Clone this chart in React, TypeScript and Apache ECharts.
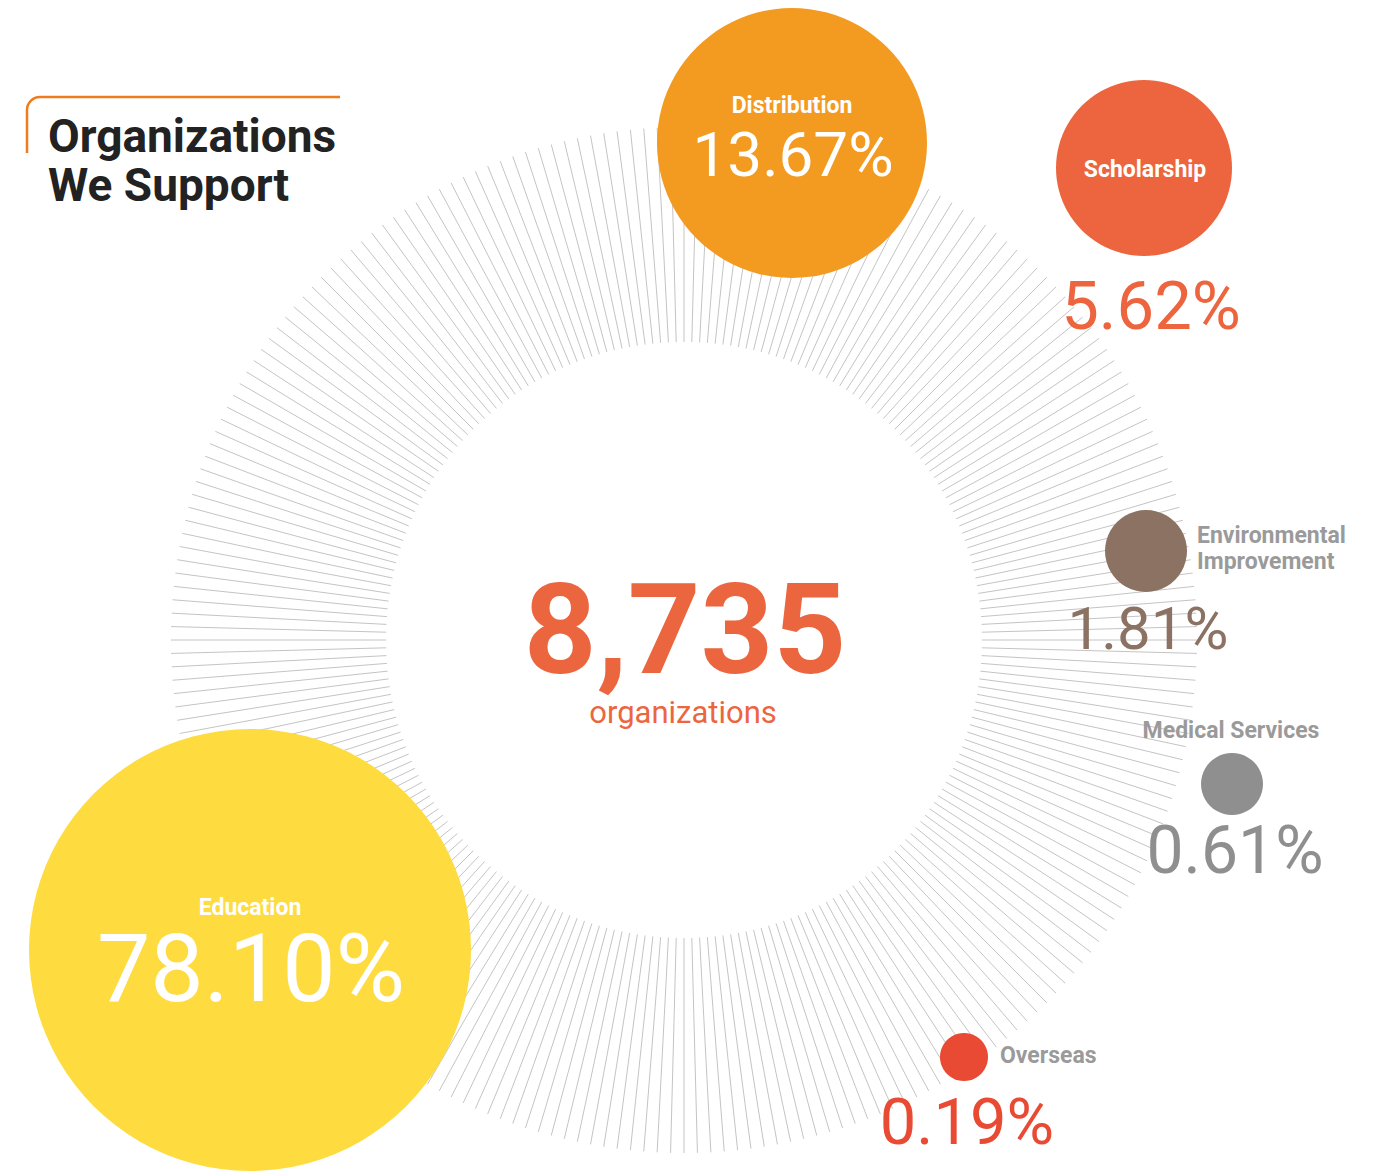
import React, { useEffect, useRef } from "react";
import * as echarts from "echarts";

// ---- data ----
const categories = [
  "Education",
  "Distribution",
  "Scholarship",
  "Environmental\nImprovement",
  "Medical Services",
  "Overseas",
];
const shares = [78.1, 13.67, 5.62, 1.81, 0.61, 0.19];
const totalOrganizations = 8735;
const totalLabel = "organizations";
const titleLines = ["Organizations", "We Support"];

// ---- layout / style (not data) ----
const W = 1376;
const H = 1172;
const ringCenter = [684, 640];
const ringRadius = [298, 513];
const ringStepDeg = 1.5;

const bubbleColors = ["#FEDB3E", "#F39A21", "#EC653E", "#8B7263", "#8F8F8F", "#E84A33"];
const bubblePos = [
  [250, 950],
  [792, 143],
  [1144, 168],
  [1146, 551],
  [1232, 784],
  [964, 1057],
];
const bubbleRadius = [221, 135, 88, 41, 31, 24];

const namePos = [
  [250, 907],
  [792, 105],
  [1145, 169],
  [1197, 548],
  [1231, 730],
  [1000, 1055],
];
const nameAlign = ["center", "center", "center", "left", "center", "left"];
const nameColor = ["#ffffff", "#ffffff", "#ffffff", "#9a9a9a", "#9a9a9a", "#9a9a9a"];
const nameSize = 23;

const valuePos = [
  [251, 968],
  [793, 154],
  [1151, 306],
  [1148, 628],
  [1235, 850],
  [967, 1122],
];
const valueSize = [95, 62, 67, 60, 66, 65];
const valueColor = ["#ffffff", "#ffffff", "#EC653E", "#8B7263", "#8F8F8F", "#E84A33"];

const FONT = "Roboto, 'Noto Sans', sans-serif";

function buildOption() {
  const bubbleData = categories.map((name, i) => ({
    name,
    value: bubblePos[i],
    symbolSize: bubbleRadius[i] * 2,
    itemStyle: { color: bubbleColors[i], opacity: 1 },
  }));

  const nameData = categories.map((name, i) => ({
    name,
    value: namePos[i],
    label: {
      show: true,
      position: "inside",
      formatter: name,
      align: nameAlign[i],
      verticalAlign: "middle",
      color: nameColor[i],
      opacity: 1,
      fontSize: nameSize,
      fontWeight: "bold",
      fontFamily: FONT,
      lineHeight: 26,
    },
  }));

  const valueData = shares.map((v, i) => ({
    name: categories[i],
    value: valuePos[i],
    label: {
      show: true,
      position: "inside",
      formatter: v.toFixed(2) + "%",
      align: "center",
      verticalAlign: "middle",
      color: valueColor[i],
      opacity: 1,
      fontSize: valueSize[i],
      fontWeight: "normal",
      fontFamily: FONT,
    },
  }));

  const accent = "#EF7B1F";

  return {
    animation: false,
    backgroundColor: "#ffffff",
    textStyle: { fontFamily: FONT },
    polar: { center: ringCenter, radius: ringRadius },
    angleAxis: {
      type: "value",
      min: 0,
      max: 360,
      interval: ringStepDeg,
      startAngle: 90,
      axisLine: { show: false },
      axisTick: { show: false },
      axisLabel: { show: false },
      splitLine: { show: true, lineStyle: { color: "#c4c4c4", width: 1 } },
    },
    radiusAxis: { type: "value", min: 0, max: 1, show: false },
    grid: { left: 0, top: 0, right: 0, bottom: 0 },
    xAxis: { type: "value", min: 0, max: W, show: false },
    yAxis: { type: "value", min: 0, max: H, inverse: true, show: false },
    graphic: [
      {
        type: "line",
        shape: { x1: 27, y1: 110, x2: 27, y2: 153 },
        style: { stroke: accent, lineWidth: 2.5 },
      },
      {
        type: "arc",
        shape: { cx: 40, cy: 110, r: 13, startAngle: Math.PI, endAngle: Math.PI * 1.5, clockwise: true },
        style: { stroke: accent, lineWidth: 2.5, fill: "none" },
      },
      {
        type: "line",
        shape: { x1: 40, y1: 97, x2: 340, y2: 97 },
        style: { stroke: accent, lineWidth: 2.5 },
      },
      {
        type: "text",
        x: 48,
        y: 136,
        style: {
          text: titleLines[0],
          fill: "#222222",
          fontSize: 46,
          fontWeight: "bold",
          fontFamily: FONT,
          align: "left",
          verticalAlign: "middle",
        },
      },
      {
        type: "text",
        x: 48,
        y: 185,
        style: {
          text: titleLines[1],
          fill: "#222222",
          fontSize: 46,
          fontWeight: "bold",
          fontFamily: FONT,
          align: "left",
          verticalAlign: "middle",
        },
      },
      {
        type: "text",
        x: ringCenter[0] + 1,
        y: 629,
        style: {
          text: totalOrganizations.toLocaleString("en-US"),
          fill: "#EB663F",
          fontSize: 127,
          fontWeight: "bold",
          fontFamily: FONT,
          align: "center",
          verticalAlign: "middle",
        },
      },
      {
        type: "text",
        x: ringCenter[0] - 1,
        y: 712,
        style: {
          text: totalLabel,
          fill: "#EB663F",
          fontSize: 31,
          fontFamily: FONT,
          align: "center",
          verticalAlign: "middle",
        },
      },
    ],
    series: [
      {
        type: "scatter",
        name: "bubbles",
        coordinateSystem: "cartesian2d",
        symbol: "circle",
        data: bubbleData,
        itemStyle: { opacity: 1 },
        z: 3,
        silent: true,
      },
      {
        type: "scatter",
        name: "names",
        coordinateSystem: "cartesian2d",
        symbolSize: 1,
        itemStyle: { color: "rgba(0,0,0,0)", opacity: 1 },
        data: nameData,
        z: 5,
        silent: true,
      },
      {
        type: "scatter",
        name: "values",
        coordinateSystem: "cartesian2d",
        symbolSize: 1,
        itemStyle: { color: "rgba(0,0,0,0)", opacity: 1 },
        data: valueData,
        z: 5,
        silent: true,
      },
    ],
  };
}

export default function App() {
  const ref = useRef<HTMLDivElement>(null);
  useEffect(() => {
    if (!ref.current) return;
    const chart = echarts.init(ref.current, null, { renderer: "svg" });
    chart.setOption(buildOption() as any);
    return () => chart.dispose();
  }, []);
  return (
    <div
      ref={ref}
      style={{ position: "absolute", left: 0, top: 0, width: W, height: H, background: "#ffffff" }}
    />
  );
}
